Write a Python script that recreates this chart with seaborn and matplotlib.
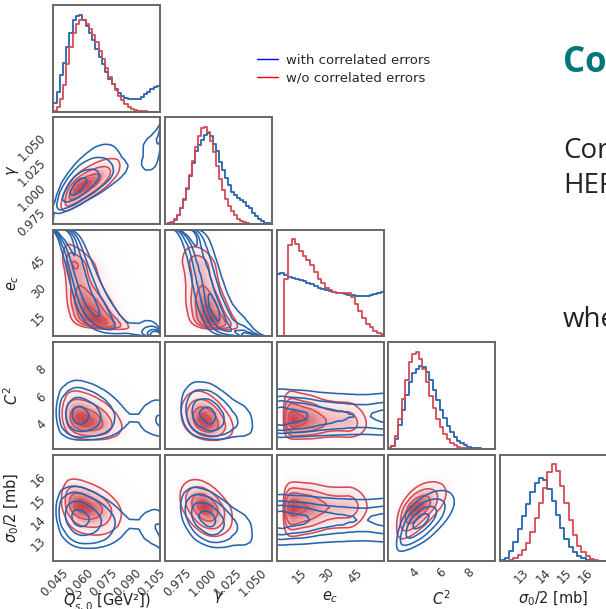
import math
import numpy as np
import pandas as pd
import matplotlib
matplotlib.use("Agg")
import matplotlib.pyplot as plt
from matplotlib.colors import LinearSegmentedColormap, PowerNorm
from matplotlib.lines import Line2D
import seaborn as sns

# axis labels, ranges and ticks for the five fit parameters
labels = [r'$Q^2_{s,0}$ [GeV²])', r'$\gamma$', r'$e_c$', r'$C^2$', r'$\sigma_0/2$ [mb]']
ranges = [(0.044, 0.110), (0.962, 1.069), (3.0, 60.5), (2.14, 9.86), (11.98, 17.0)]
ticks = [[0.045, 0.060, 0.075, 0.090, 0.105], [0.975, 1.000, 1.025, 1.050],
         [15, 30, 45], [4, 6, 8], [13, 14, 15, 16]]
tick_labels = [["0.045", "0.060", "0.075", "0.090", "0.105"],
               ["0.975", "1.000", "1.025", "1.050"],
               ["15", "30", "45"], ["4", "6", "8"], ["13", "14", "15", "16"]]

# histogram bin edges per parameter
q2_edges = np.linspace(0.044, 0.110, 34)
gamma_edges = np.linspace(0.962, 1.070, 37)
ec_edges = np.linspace(3.0, 61.0, 30)
c2_edges = np.linspace(2.1, 9.85, 32)
sig_edges = np.linspace(12.0, 17.0, 26)

# marginal posteriors (relative bin heights)
q2_blue = [0.09, 0.20, 0.38, 0.50, 0.67, 0.81, 0.94, 0.99, 1.00, 0.95, 0.88, 0.81, 0.74, 0.65,
           0.56, 0.49, 0.41, 0.34, 0.28, 0.23, 0.19, 0.16, 0.14, 0.13, 0.13, 0.13, 0.13, 0.15,
           0.18, 0.20, 0.23, 0.25, 0.26]
q2_red = [0.01, 0.05, 0.13, 0.27, 0.49, 0.67, 0.81, 0.90, 0.94, 0.94, 0.90, 0.85, 0.79, 0.72,
          0.63, 0.54, 0.45, 0.36, 0.28, 0.22, 0.16, 0.12, 0.08, 0.05, 0.03, 0.02, 0.01, 0.005,
          0.002, 0, 0, 0, 0]
gamma_blue = [0, 0.01, 0.02, 0.04, 0.09, 0.16, 0.26, 0.36, 0.49, 0.63, 0.75, 0.82, 0.87, 0.92,
              0.94, 0.91, 0.83, 0.75, 0.64, 0.56, 0.47, 0.40, 0.33, 0.30, 0.27, 0.25, 0.23,
              0.19, 0.16, 0.11, 0.08, 0.05, 0.03, 0.01, 0.01, 0]
gamma_red = [0, 0.01, 0.02, 0.05, 0.09, 0.16, 0.25, 0.37, 0.50, 0.65, 0.79, 0.91, 0.99, 1.00,
             0.95, 0.86, 0.74, 0.60, 0.46, 0.35, 0.26, 0.19, 0.13, 0.09, 0.05, 0.03, 0.02,
             0.01, 0, 0, 0, 0, 0, 0, 0, 0]
ec_blue = [0.64, 0.65, 0.63, 0.61, 0.60, 0.59, 0.58, 0.57, 0.55, 0.53, 0.51, 0.49, 0.48, 0.47,
           0.46, 0.45, 0.44, 0.44, 0.43, 0.42, 0.42, 0.41, 0.41, 0.41, 0.41, 0.42, 0.43, 0.44,
           0.45]
ec_red = [0, 0, 0.59, 0.93, 0.99, 0.94, 0.87, 0.82, 0.78, 0.73, 0.66, 0.59, 0.54, 0.49, 0.47,
          0.45, 0.44, 0.44, 0.44, 0.44, 0.40, 0.33, 0.26, 0.19, 0.13, 0.09, 0.05, 0.03, 0.02]
c2_blue = [0.01, 0.03, 0.10, 0.24, 0.40, 0.55, 0.68, 0.77, 0.82, 0.85, 0.84, 0.78, 0.70, 0.60,
           0.50, 0.40, 0.31, 0.23, 0.17, 0.12, 0.08, 0.055, 0.035, 0.02, 0.012, 0.007, 0.004,
           0.002, 0, 0, 0]
c2_red = [0.01, 0.03, 0.13, 0.30, 0.51, 0.70, 0.89, 0.97, 0.99, 0.92, 0.82, 0.68, 0.54, 0.42,
          0.30, 0.22, 0.15, 0.10, 0.06, 0.04, 0.02, 0.01, 0.005, 0, 0, 0, 0, 0, 0, 0, 0]
sig_blue = [0.01, 0.03, 0.10, 0.20, 0.33, 0.47, 0.59, 0.71, 0.81, 0.86, 0.84, 0.74, 0.62, 0.48,
            0.34, 0.23, 0.15, 0.09, 0.05, 0.03, 0.015, 0.008, 0.004, 0.002, 0]
sig_red = [0, 0.005, 0.01, 0.03, 0.06, 0.11, 0.19, 0.30, 0.45, 0.60, 0.76, 0.92, 1.00, 0.93,
           0.78, 0.60, 0.42, 0.27, 0.16, 0.09, 0.05, 0.025, 0.012, 0.005, 0.002]

# pairwise correlations (col param, row param) estimated from the contour tilt
pairs = [(0, 1), (0, 2), (1, 2), (0, 3), (1, 3), (2, 3), (0, 4), (1, 4), (2, 4), (3, 4)]
rho_blue = [0.75, -0.85, -0.75, -0.10, -0.25, 0.0, -0.25, -0.40, 0.0, 0.65]
rho_red = [0.75, -0.55, -0.45, -0.25, -0.30, -0.10, -0.30, -0.40, 0.05, 0.60]

edges = [q2_edges, gamma_edges, ec_edges, c2_edges, sig_edges]
hist_blue = [q2_blue, gamma_blue, ec_blue, c2_blue, sig_blue]
hist_red = [q2_red, gamma_red, ec_red, c2_red, sig_red]

BLUE = '#2565ae'
RED = '#d44a55'
SPINE = '#666666'
mass_levels = [0.118, 0.393, 0.675, 0.865]

sns.set_style("white")
plt.rcParams['font.family'] = ['DejaVu Sans']

# inverse normal cdf through a lookup table
zg = np.linspace(-6, 6, 2401)
Phi = 0.5 * (1 + np.array([math.erf(z / math.sqrt(2)) for z in zg]))


def marginal(e, h, n):
    x = np.linspace(e[0], e[-1], n)
    c = 0.5 * (e[1:] + e[:-1])
    pdf = np.interp(x, c, np.asarray(h, float))
    cdf = np.cumsum(pdf)
    cdf = (cdf - 0.5 * pdf) / cdf[-1]
    z = np.interp(np.clip(cdf, 1e-6, 1 - 1e-6), Phi, zg)
    return x, pdf, z


def density(i, j, hists, rho, n):
    x, px, zx = marginal(edges[i], hists[i], n)
    y, py, zy = marginal(edges[j], hists[j], n)
    ZX, ZY = np.meshgrid(zx, zy)
    cop = np.exp(-(rho ** 2 * (ZX ** 2 + ZY ** 2) - 2 * rho * ZX * ZY) / (2 * (1 - rho ** 2)))
    cop /= np.sqrt(1 - rho ** 2)
    return x, y, py[:, None] * px[None, :] * cop


def levels(D):
    s = np.sort(D.ravel())[::-1]
    cs = np.cumsum(s)
    cs /= cs[-1]
    lv = sorted(s[np.searchsorted(cs, f)] for f in mass_levels)
    return lv


red_cmap = LinearSegmentedColormap.from_list("reds", [(1, 1, 1, 0), (0.97, 0.82, 0.83, 0.7),
                                                      (0.78, 0.22, 0.26, 0.95)])

fig = plt.figure(figsize=(6.06, 6.09), dpi=100)
W, H = 606.0, 609.0
col_left = [53.3 + 111.7 * i for i in range(5)]
row_top = [5 + 112.4 * j for j in range(5)]
pw, ph = 106.8, 106.5

for j in range(5):
    for i in range(j + 1):
        ax = fig.add_axes([col_left[i] / W, 1 - (row_top[j] + ph) / H, pw / W, ph / H])
        if i == j:
            e = edges[i]
            c = 0.5 * (e[1:] + e[:-1])
            for h, col in [(hist_blue[i], BLUE), (hist_red[i], RED)]:
                df = pd.DataFrame({"x": c, "w": h})
                sns.histplot(data=df, x="x", weights="w", bins=list(e), element="step",
                             fill=False, color=col, linewidth=1.3, ax=ax)
            top = max(max(hist_blue[i]), max(hist_red[i]))
            ax.set_ylim(0, top * 1.1)
            ax.set_yticks([])
        else:
            k = pairs.index((i, j))
            # red: shaded density + contour lines
            xs, ys, Ds = density(i, j, hist_red, rho_red[k], 46)
            ax.pcolormesh(xs, ys, Ds, cmap=red_cmap, norm=PowerNorm(0.6, 0, Ds.max()),
                          shading="nearest", rasterized=True)
            x, y, D = density(i, j, hist_red, rho_red[k], 160)
            ax.contour(x, y, D, levels=levels(D), colors=RED, linewidths=1.15)
            # blue: contour lines only
            x, y, D = density(i, j, hist_blue, rho_blue[k], 160)
            ax.contour(x, y, D, levels=levels(D), colors=BLUE, linewidths=1.15)
            ax.set_ylim(*ranges[j])
            ax.set_yticks(ticks[j])
            if i == 0:
                ax.set_yticklabels(tick_labels[j], rotation=45, fontsize=8.5, color='#333333')
                ax.set_ylabel(labels[j], fontsize=10.5, color='#222222')
                ax.yaxis.set_label_coords(-0.3, 0.5)
            else:
                ax.set_yticklabels([])
                ax.set_ylabel("")
        ax.set_xlim(*ranges[i])
        ax.set_xticks(ticks[i])
        if j == 4:
            ax.set_xticklabels(tick_labels[i], rotation=45, fontsize=8.5, color='#333333')
            ax.set_xlabel(labels[i], fontsize=10.5, color='#222222')
            ax.xaxis.set_label_coords(0.5, -0.265)
        else:
            ax.set_xticklabels([])
            ax.set_xlabel("")
        if i == j:
            ax.set_ylabel("")
        ax.tick_params(direction="in", length=4, width=0.9, color='#333333', pad=3.5)
        for sp in ax.spines.values():
            sp.set_color(SPINE)
            sp.set_linewidth(1.4)

handles = [Line2D([], [], color="blue", lw=1.0), Line2D([], [], color="red", lw=1.0)]
fig.legend(handles, ["with correlated errors", "w/o correlated errors"],
           loc="upper left", bbox_to_anchor=(257 / W, 1 - 54 / H), frameon=False,
           fontsize=9.5, handlelength=1.6, handletextpad=0.6, borderpad=0,
           borderaxespad=0, labelspacing=0.35)

# pieces of the slide next to the figure (cut off by the screenshot edge)
fig.text(563 / W, 1 - 72 / H, "Co", color="#00787a", fontsize=25, fontweight="bold",
         family="Open Sans", va="baseline")
fig.text(563 / W, 1 - 158 / H, "Cor", color="#222222", fontsize=20, family="Open Sans",
         va="baseline")
fig.text(563 / W, 1 - 193 / H, "HERA", color="#222222", fontsize=20, family="Open Sans",
         va="baseline")
fig.text(563 / W, 1 - 327 / H, "whe", color="#222222", fontsize=20, family="Open Sans",
         va="baseline")

fig.savefig("out.png", dpi=100)
